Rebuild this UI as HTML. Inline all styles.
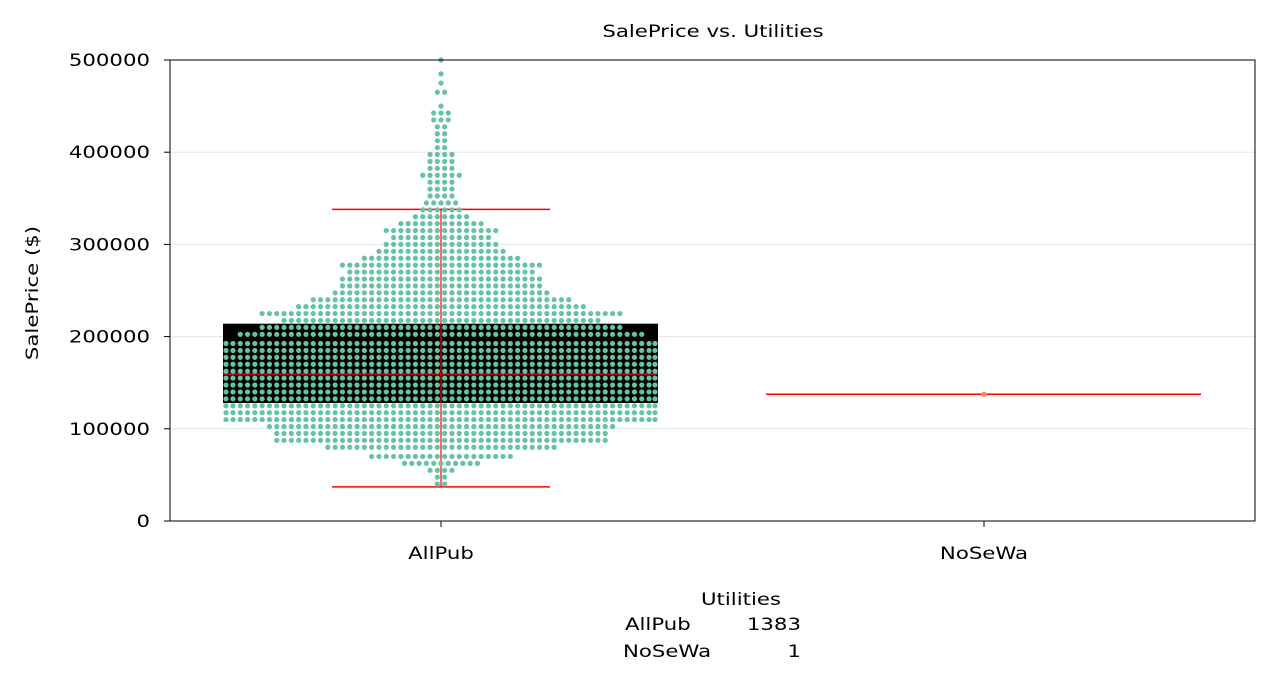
<!DOCTYPE html>
<html><head><meta charset="utf-8"><style>
body{margin:0;background:#fff;}
svg text{font-family:"DejaVu Sans","Liberation Sans",sans-serif;font-size:17px;fill:#000;}
</style></head><body>
<svg id="chart" width="1278" height="683" xmlns="http://www.w3.org/2000/svg">
<g id="grid"></g><g id="box"></g><g id="dots"></g><g id="axes"></g>
</svg>
<script>
const categories = ["AllPub", "NoSeWa"];
const categoryCounts = [1383, 1];
const yTicks = [0, 100000, 200000, 300000, 400000, 500000];
const allPubBoxStats = [37000, 128000, 159500, 214000, 338000]; // min q1 median q3 max
const noSeWaPrices = [137500];
const allPubRowPrices = [40000,47500,55000,62500,70000,80000,87500,95000,102500,110000,117500,125000,132500,140000,147500,155000,162500,170000,177500,185000,192500,202500,210000,217500,225000,232500,240000,247500,255000,262500,270000,277500,285000,292500,300000,307500,315000,322500,330000,337500,345000,352500,360000,367500,375000,382500,390000,397500,405000,412500,420000,427500,435000,442500,450000,465000,475000,485000,500000];
const allPubRowCounts = [2,2,4,11,20,32,46,46,48,60,60,60,60,60,60,60,60,60,60,60,60,56,50,44,50,40,36,30,28,28,26,28,22,18,16,14,16,12,8,6,5,4,4,4,6,4,4,4,2,2,2,2,3,3,1,2,1,1,1];

const NS="http://www.w3.org/2000/svg";
const L=170,R=1255,T=60,B=521;
const y=v=>B-(v/500000)*(B-T);
const xc=[441,984];
function mk(p,tag,a,txt){const e=document.createElementNS(NS,tag);for(const k in a)e.setAttribute(k,a[k]);if(txt!==undefined)e.textContent=txt;document.getElementById(p).appendChild(e);return e;}

yTicks.forEach((t,i)=>{
 if(t>0){const g=mk('grid','line',{x1:L,x2:R,y1:y(t),y2:y(t),stroke:'#e5e5e5','stroke-width':1});
 
 }
 const tk=mk('axes','line',{x1:L-6,x2:L,y1:y(t),y2:y(t),stroke:'#000'});
 
 
 const lb=mk('axes','text',{x:L-20,y:y(t)+6,'text-anchor':'end'},String(t));
 
 
});
const [mn,q1,md,q3,mx]=allPubBoxStats;
const bx=mk('box','rect',{x:223,y:y(q3),width:435,height:y(q1)-y(q3),fill:'#000'});


allPubRowPrices.forEach((p,r)=>{
 const n=allPubRowCounts[r];
 for(let i=0;i<n;i++){
  let x=xc[0]+(i-(n-1)/2)*7.3;
  x=Math.max(226,Math.min(655,x));
  const c=mk('dots','circle',{cx:x,cy:y(p),r:2.6,fill:'#66c2a5'});
  
  
 }
});
const wl=mk('box','line',{x1:xc[0],x2:xc[0],y1:y(mx),y2:y(mn),stroke:'red','stroke-width':1.2});


[mn,mx].forEach(v=>{const c=mk('box','line',{x1:332,x2:550,y1:y(v),y2:y(v),stroke:'red','stroke-width':1.5});

});
const me=mk('box','line',{x1:223,x2:658,y1:y(md),y2:y(md),stroke:'red','stroke-width':1.5});


noSeWaPrices.forEach(p=>{
 const l=mk('box','line',{x1:766,x2:1201,y1:y(p),y2:y(p),stroke:'red','stroke-width':1.5});
 
 
 const c=mk('dots','circle',{cx:xc[1],cy:y(p),r:2.6,fill:'#fc8d62'});
 
 
});
const fr=mk('axes','rect',{x:L,y:T,width:R-L,height:B-T,fill:'none',stroke:'#000','stroke-width':1});


categories.forEach((c,i)=>{
 const tk=mk('axes','line',{x1:xc[i],x2:xc[i],y1:B,y2:B+6,stroke:'#000'});
 
 
 const lb=mk('axes','text',{x:xc[i],y:559,'text-anchor':'middle'},c);
 
 
});
const tt=mk('axes','text',{x:713,y:37,'text-anchor':'middle'},'SalePrice vs. Utilities');


const yl=mk('axes','text',{x:38,y:293,'text-anchor':'middle',transform:'rotate(-90 38 293)'},'SalePrice ($)');


const xl=mk('axes','text',{x:741,y:605,'text-anchor':'middle'},'Utilities');


const lx=[625,623];
categories.forEach((c,i)=>{
 const a=mk('axes','text',{x:lx[i],y:630+i*27,'text-anchor':'start'},c);
 
 
 const b=mk('axes','text',{x:801,y:630+i*27,'text-anchor':'end'},String(categoryCounts[i]));
 
 
});
document.querySelectorAll('svg text').forEach(t=>{
 const w=t.getComputedTextLength();
 t.setAttribute('textLength',(w*1.25).toFixed(1));
 t.setAttribute('lengthAdjust','spacingAndGlyphs');
});
</script>
</body></html>
